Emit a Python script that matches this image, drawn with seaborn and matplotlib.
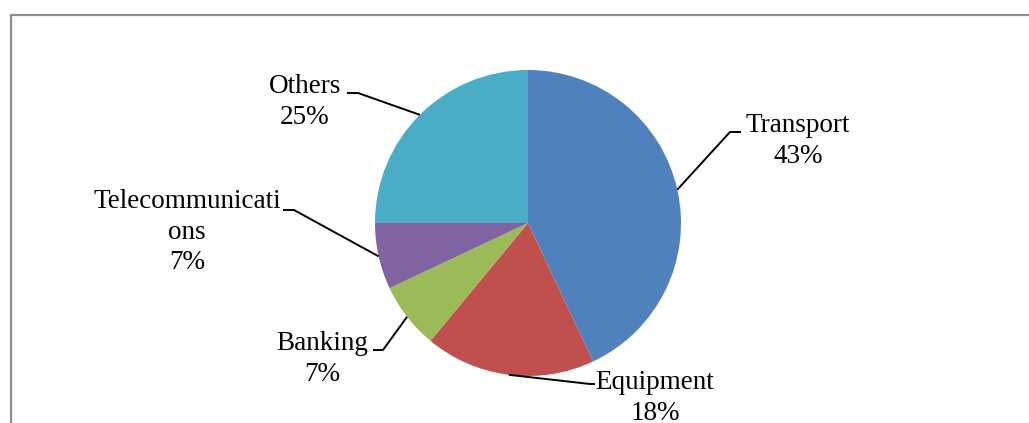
import numpy as np
import matplotlib
matplotlib.use("Agg")
import matplotlib.pyplot as plt
from matplotlib.lines import Line2D
import seaborn as sns

categories = ["Transport", "Equipment", "Banking", "Telecommunications", "Others"]
values = [43, 18, 7, 7, 25]
label_texts = ["Transport\n43%", "Equipment\n18%", "Banking\n7%", "Telecommunicati\nons\n7%", "Others\n25%"]
colors = ["#4F81BD", "#C0504D", "#9BBB59", "#8064A2", "#4BACC6"]

sns.set_style("white")
plt.rcParams["font.family"] = ["Liberation Serif", "DejaVu Serif"]

W, H = 1029, 423
fig = plt.figure(figsize=(W / 100, H / 100), dpi=100)
ax = fig.add_axes([0, 0, 1, 1])

cx, cy, r = 528, H - 223, 153
wedges, _ = ax.pie(values, colors=colors, startangle=90, counterclock=False,
                   center=(cx, cy), radius=r, wedgeprops=dict(linewidth=0))
ax.set_xlim(0, W)
ax.set_ylim(0, H)
ax.set_aspect("equal")
ax.axis("off")

# label layout (pixel coords, y from top): text centre, elbow, horizontal end
layout = {
    "Transport": dict(text=(798, 141), elbow=(730, 132), end=(741, 132)),
    "Equipment": dict(text=(655, 398), elbow=(590, 384), end=(595, 384)),
    "Banking": dict(text=(322, 359), elbow=(383, 350), end=(373, 350)),
    "Telecommunications": dict(text=(187, 232), elbow=(294, 210), end=(283, 210)),
    "Others": dict(text=(305, 102), elbow=(358, 93), end=(347, 93)),
}

for w, cat, txt in zip(wedges, categories, label_texts):
    mid = np.deg2rad((w.theta1 + w.theta2) / 2)
    ex, ey = cx + r * np.cos(mid), cy + r * np.sin(mid)
    lay = layout[cat]
    bx, by = lay["elbow"][0], H - lay["elbow"][1]
    hx, hy = lay["end"][0], H - lay["end"][1]
    ax.plot([ex, bx, hx], [ey, by, hy], color="black", lw=1.4, solid_capstyle="butt")
    tx, ty = lay["text"][0], H - lay["text"][1]
    ax.text(tx, ty, txt, ha="center", va="center", fontsize=19.5,
            linespacing=1.3, color="black")

# outer frame (left and top edges)
fig.add_artist(Line2D([10.5 / W, 10.5 / W, 1.0], [0.0, 1 - 15.5 / H, 1 - 15.5 / H],
                      transform=fig.transFigure, color="#8c8c8c", lw=1.6))

fig.savefig("out.png", dpi=100)
